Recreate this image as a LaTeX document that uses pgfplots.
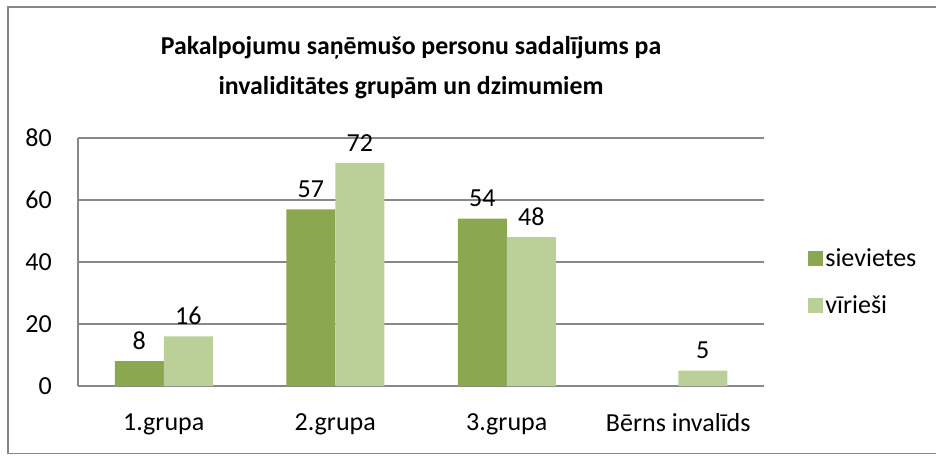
\documentclass[border=0pt]{standalone}
\usepackage{pgfplots}
\pgfplotsset{compat=1.18}
\usepackage{fontspec}
\setmainfont{Carlito}
\definecolor{darkg}{HTML}{8BA850}
\definecolor{lightg}{HTML}{BBD098}
\definecolor{gridg}{HTML}{888888}
\begin{document}
\begin{tikzpicture}[x=1pt,y=1pt]
\useasboundingbox (0,0) rectangle (936,455);
\draw[gridg, line width=1.5pt] (945,448) -- (8,448) -- (8,1.5) -- (945,1.5);
\node[font=\bfseries\fontsize{25.8}{40}\selectfont, align=center] at (411,387)
  {Pakalpojumu saņēmušo personu sadalījums pa\\invaliditātes grupām un dzimumiem};
\begin{axis}[
  at={(78pt,69pt)}, anchor=south west,
  scale only axis, width=686pt, height=248pt,
  ybar=0pt, bar width=49pt,
  xmin=-0.5, xmax=3.5, ymin=0, ymax=80,
  xtick={0,1,2,3},
  xticklabels={1.grupa,2.grupa,3.grupa,Bērns invalīds},
  ytick={0,20,40,60,80},
  axis x line*=bottom, axis y line*=left,
  axis line style={gridg, line width=1.3pt},
  ymajorgrids, grid style={gridg, line width=1.3pt},
  major tick length=0pt,
  tick label style={font=\fontsize{26}{30}\selectfont},
  /pgf/number format/assume math mode=true,
  every y tick label/.append style={anchor=east, inner sep=0pt, xshift=-26pt},
  xticklabel style={yshift=-24pt},
  nodes near coords,
  every node near coord/.append style={font=\fontsize{26}{30}\selectfont, yshift=8pt, black},
  legend style={at={(1.06,0.42)}, anchor=west, draw=none, fill=none,
    font=\fontsize{26}{30}\selectfont, row sep=24pt,
    nodes={inner sep=2pt}},
  legend cell align=left,
  legend image code/.code={\fill[#1] (0pt,-7.5pt) rectangle (15pt,7.5pt);},
]
\addplot[fill=darkg, draw=none] coordinates {(0,8) (1,57) (2,54)};
\addplot[fill=lightg, draw=none] coordinates {(0,16) (1,72) (2,48) (3,5)};
\legend{sievietes, vīrieši}
\end{axis}
\end{tikzpicture}
\end{document}
